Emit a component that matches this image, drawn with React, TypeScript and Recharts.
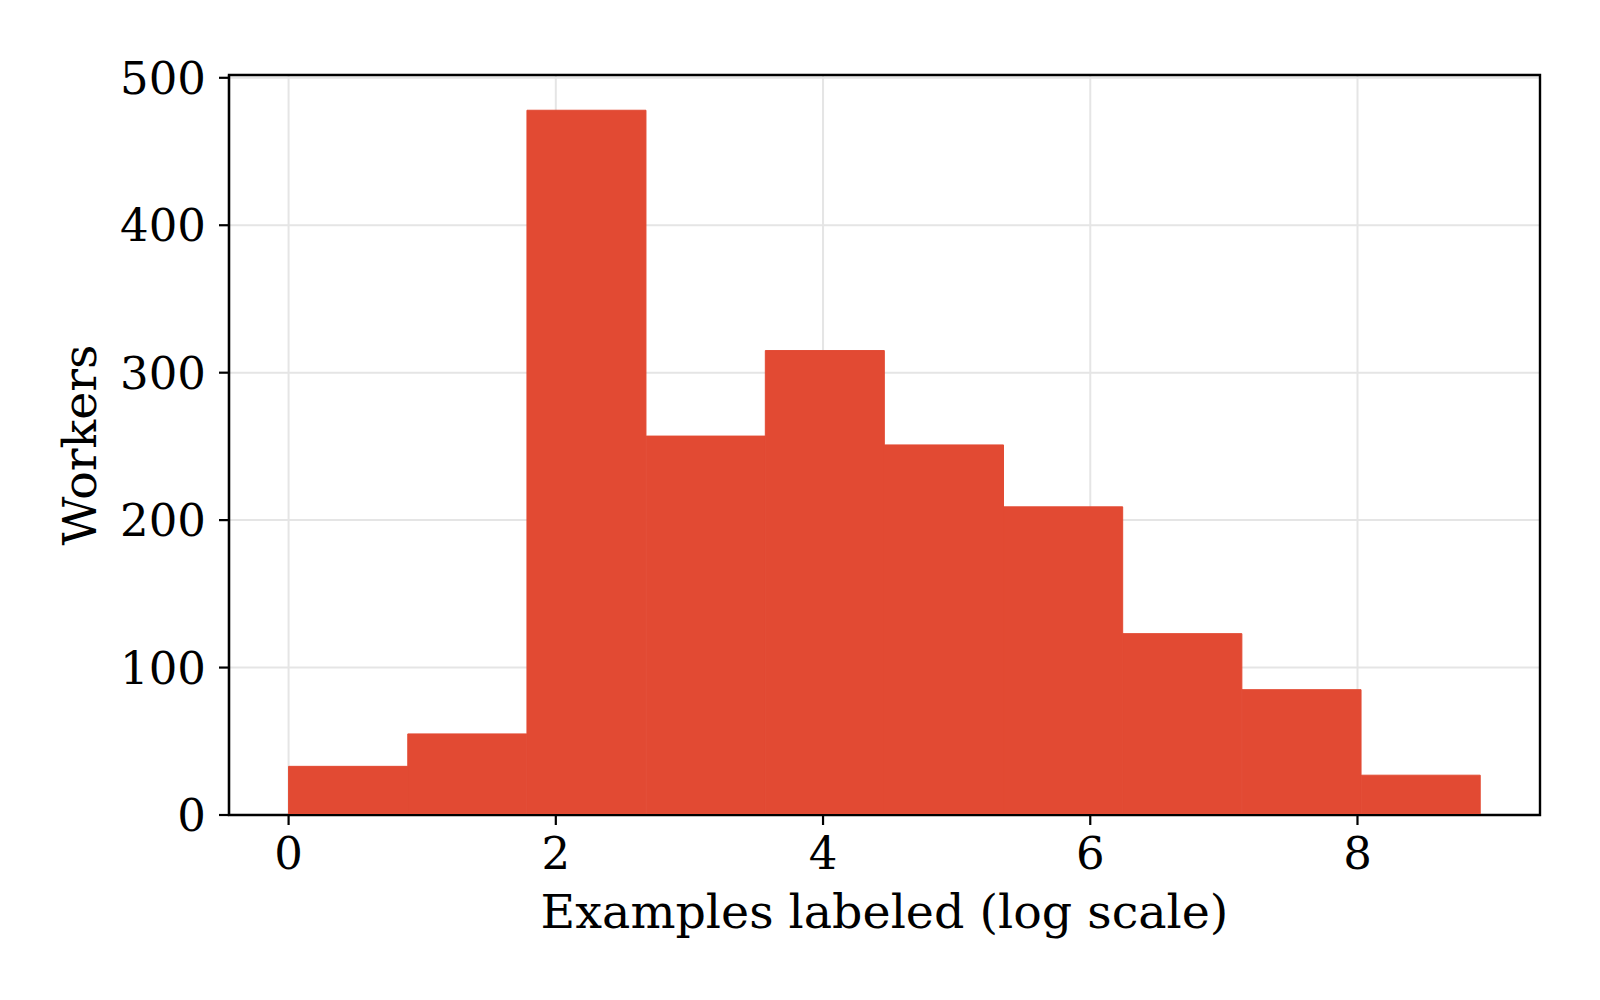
import React from 'react';
import { ComposedChart, Bar, XAxis, YAxis, CartesianGrid, Label, ReferenceArea } from 'recharts';

// Histogram: 10 equal-width bins between 0 and 8.92 (log of examples labeled)
const binStart = 0;
const binEnd = 8.92;
const binCount = 10;
const workerCounts = [33, 55, 478, 257, 315, 251, 209, 123, 85, 27];
const xTicks = [0, 2, 4, 6, 8];
const yTicks = [0, 100, 200, 300, 400, 500];
const xLabel = 'Examples labeled (log scale)';
const yLabel = 'Workers';

const binWidth = (binEnd - binStart) / binCount;
const data = workerCounts.map((count, i) => ({
  center: binStart + binWidth * (i + 0.5),
  count,
}));

// matplotlib-style 5% margins
const xSpan = binEnd - binStart;
const xDomain = [binStart - xSpan * 0.05, binEnd + xSpan * 0.05];
const yDomain = [0, Math.max(...workerCounts) * 1.05];

const W = 1600;
const H = 1000;
const margin = { top: 75, right: 60, left: 0, bottom: 0 };
const yAxisWidth = 229;
const xAxisHeight = 185;

const FONT = '"DejaVu Serif", serif';
const FS = 45;
const LABEL_FS = 47.5;
const BAR_COLOR = '#E24A33';
const tickStyle = { fontSize: FS, fill: '#000', fontFamily: FONT };
const spine = { stroke: '#000', strokeWidth: 2.2 };

export default function App() {
  return (
    <div style={{ position: 'absolute', left: 0, top: 0, width: W, height: H, background: '#fff' }}>
      <ComposedChart width={W} height={H} data={data} margin={margin} barGap={0} barCategoryGap={0}>
        <CartesianGrid stroke="#e5e5e5" strokeWidth={2} />
        <XAxis
          type="number"
          dataKey="center"
          domain={xDomain}
          allowDataOverflow
          ticks={xTicks}
          height={xAxisHeight}
          tick={tickStyle}
          tickSize={10}
          tickMargin={12}
          tickLine={spine}
          axisLine={spine}
        >
          <Label
            content={(props: any) => {
              const vb = props.viewBox;
              return (
                <text
                  x={vb.x + vb.width / 2}
                  y={vb.y + 113}
                  textAnchor="middle"
                  fontSize={LABEL_FS}
                  fontFamily={FONT}
                  fill="#000"
                >
                  {xLabel}
                </text>
              );
            }}
          />
        </XAxis>
        <YAxis
          type="number"
          domain={yDomain}
          allowDataOverflow
          ticks={yTicks}
          width={yAxisWidth}
          tick={tickStyle}
          tickSize={10}
          tickMargin={13}
          tickLine={spine}
          axisLine={spine}
        >
          <Label
            content={(props: any) => {
              const vb = props.viewBox;
              const cx = 96;
              const cy = vb.y + vb.height / 2;
              return (
                <text
                  x={cx}
                  y={cy}
                  transform={`rotate(-90 ${cx} ${cy})`}
                  textAnchor="middle"
                  fontSize={LABEL_FS}
                  fontFamily={FONT}
                  fill="#000"
                >
                  {yLabel}
                </text>
              );
            }}
          />
        </YAxis>
        <Bar dataKey="count" fill={BAR_COLOR} stroke={BAR_COLOR} strokeWidth={1} isAnimationActive={false} />
        <ReferenceArea
          x1={xDomain[0]}
          x2={xDomain[1]}
          y1={yDomain[0]}
          y2={yDomain[1]}
          fill="none"
          fillOpacity={0}
          stroke="#000"
          strokeWidth={2.4}
          ifOverflow="visible"
        />
      </ComposedChart>
    </div>
  );
}
